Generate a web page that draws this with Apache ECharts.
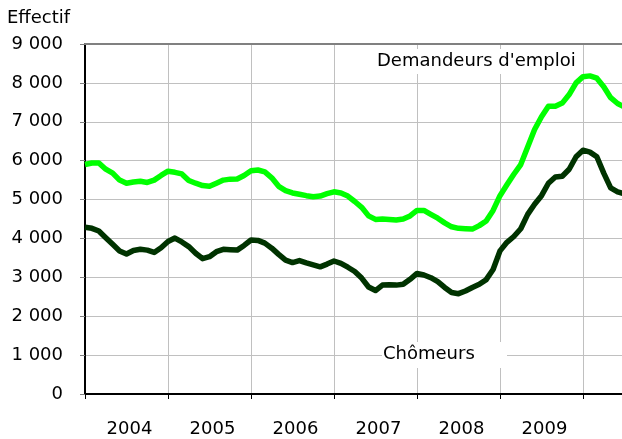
<!DOCTYPE html>
<html>
<head>
<meta charset="utf-8">
<script src="https://cdn.jsdelivr.net/npm/echarts@6/dist/echarts.min.js"></script>
<style>html,body{margin:0;padding:0;background:#fff;overflow:hidden;}#c{width:622px;height:439px;}</style>
</head>
<body>
<div id="c"></div>
<script>
// Year categories (last one is the partially visible 2010 band, unlabelled)
const years = ['2004', '2005', '2006', '2007', '2008', '2009', ''];
// Monthly values from January 2004 (index 0)
const demandeurs = [
  5900, 5940, 5940, 5780, 5680, 5500, 5420, 5450, 5470, 5440, 5500, 5620,
  5730, 5700, 5660, 5490, 5420, 5360, 5340, 5420, 5500, 5525, 5528, 5620,
  5740, 5760, 5710, 5560, 5340, 5230, 5170, 5135, 5100, 5070, 5090, 5150,
  5200, 5170, 5090, 4950, 4800, 4580, 4490, 4500, 4490, 4475, 4500, 4580,
  4720, 4720, 4620, 4520, 4400, 4300, 4260, 4250, 4240, 4330, 4450, 4720,
  5100, 5380, 5650, 5900, 6350, 6800, 7130, 7400, 7400, 7480, 7700, 8000,
  8160, 8180, 8120, 7900, 7620, 7470, 7380
];
const chomeurs = [
  4290, 4260, 4190, 4020, 3850, 3680, 3600, 3690, 3720, 3700, 3640, 3760,
  3920, 4010, 3910, 3790, 3620, 3480, 3530, 3660, 3720, 3710, 3700, 3820,
  3960, 3950, 3880, 3750, 3590, 3440, 3380, 3430, 3370, 3320, 3270, 3340,
  3420, 3360, 3260, 3150, 2980, 2750, 2660, 2800, 2810, 2800, 2820, 2950,
  3100, 3060, 2990, 2890, 2740, 2610, 2580, 2650, 2740, 2820, 2940, 3200,
  3680, 3900, 4050, 4250, 4620, 4880, 5100, 5420, 5580, 5600, 5780, 6100,
  6270, 6220, 6100, 5680, 5300, 5200, 5150
];
const yTicks = { min: 0, max: 9000, interval: 1000 };

const font = 'DejaVu Sans, Verdana, sans-serif';
const toPairs = arr => arr.map((v, i) => [i, v]);
const fmt = v => String(v).replace(/\B(?=(\d{3})+(?!\d))/g, ' ');

const chart = echarts.init(document.getElementById('c'), null, { renderer: 'canvas' });
chart.setOption({
  animation: false,
  backgroundColor: '#ffffff',
  title: {
    text: 'Effectif', left: 7, top: 9, padding: 0,
    textStyle: { fontFamily: font, fontSize: 18, fontWeight: 'normal', color: '#000' }
  },
  grid: { left: 85, top: 44, width: 581, bottom: 45, containLabel: false, outerBoundsMode: 'none' },
  xAxis: [
    {
      type: 'category', data: years, boundaryGap: true, position: 'bottom',
      axisLine: { show: true, lineStyle: { color: '#000', width: 2 } },
      axisTick: { show: true, alignWithLabel: false, length: 5, lineStyle: { color: '#000' } },
      axisLabel: { fontFamily: font, fontSize: 18, color: '#000', margin: 26, padding: [0, 0, 0, 6], interval: 0 },
      splitLine: { show: true, interval: 0, lineStyle: { color: '#c0c0c0', width: 1 } }
    },
    {
      type: 'value', min: 0, max: 84, position: 'top',
      axisLine: { show: true, onZero: false, lineStyle: { color: '#808080', width: 2 } },
      axisTick: { show: false }, axisLabel: { show: false }, splitLine: { show: false }
    }
  ],
  yAxis: {
    type: 'value', min: yTicks.min, max: yTicks.max, interval: yTicks.interval,
    axisLine: { show: true, lineStyle: { color: '#000', width: 2 } },
    axisTick: { show: true, length: 5, lineStyle: { color: '#808080' } },
    axisLabel: { fontFamily: font, fontSize: 18, color: '#000', margin: 22, formatter: fmt },
    splitLine: { show: true, lineStyle: { color: '#c0c0c0', width: 1 } }
  },
  graphic: [
    { type: 'rect', z: 100, shape: { x: 372, y: 49, width: 208, height: 25 }, style: { fill: '#fff', stroke: 'none' } },
    { type: 'rect', z: 100, shape: { x: 382, y: 342, width: 125, height: 26 }, style: { fill: '#fff', stroke: 'none' } },
    { type: 'text', z: 101, x: 377, y: 52, style: { text: "Demandeurs d'emploi", font: '18px ' + font, fill: '#000', lineWidth: 0, stroke: 'none' } },
    { type: 'text', z: 101, x: 383, y: 345, style: { text: 'Chômeurs', font: '18px ' + font, fill: '#000', lineWidth: 0, stroke: 'none' } }
  ],
  series: [
    {
      name: "Demandeurs d'emploi", type: 'line', xAxisIndex: 1, data: toPairs(demandeurs),
      showSymbol: false, symbol: 'none', smooth: false,
      lineStyle: { color: '#00ff00', width: 5.5, join: 'round' }
    },
    {
      name: 'Chômeurs', type: 'line', xAxisIndex: 1, data: toPairs(chomeurs),
      showSymbol: false, symbol: 'none', smooth: false,
      lineStyle: { color: '#003300', width: 5.5, join: 'round' }
    }
  ]
});
</script>
</body>
</html>
